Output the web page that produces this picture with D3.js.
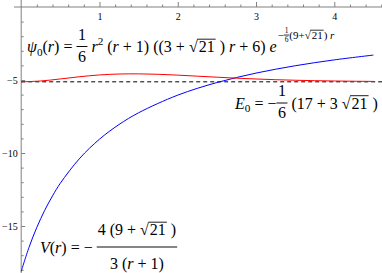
<!DOCTYPE html>
<html>
<head>
<meta charset="utf-8">
<script src="https://cdn.jsdelivr.net/npm/d3@7"></script>
<style>
  body { margin: 0; background: #fff; }
  text { font-family: 'Liberation Serif', 'Times New Roman', serif; fill: #000; white-space: pre; }
</style>
</head>
<body>
<div id="chart"></div>
<script>
// values
var rRed = [0, 0.25, 0.5, 0.75, 1, 1.25, 1.5, 1.75, 2, 2.25, 2.5, 2.75, 3, 3.25, 3.5, 3.75, 4, 4.25, 4.5];
var psiShifted = [-5.125, -5.067, -4.928, -4.774, -4.654, -4.590, -4.579, -4.610, -4.667, -4.737,
                  -4.808, -4.874, -4.931, -4.979, -5.017, -5.046, -5.068, -5.085, -5.097];
var rBlue = [0, 0.1, 0.2, 0.3, 0.4, 0.5, 0.75, 1, 1.25, 1.5, 2, 2.5, 3, 3.5, 4, 4.5];
var vBlue = [-18.11, -16.46, -15.09, -13.93, -12.94, -12.07, -10.35, -9.055, -8.049, -7.244,
             -6.037, -5.175, -4.528, -4.025, -3.622, -3.293];
var E0 = -5.125;
var xTicks = [1, 2, 3, 4];
var xMinor = [0.2, 0.4, 0.6, 0.8, 1.2, 1.4, 1.6, 1.8, 2.2, 2.4, 2.6, 2.8, 3.2, 3.4, 3.6, 3.8, 4.2, 4.4, 4.6];
var yTicks = [-5, -10, -15];
var yMinor = [-1, -2, -3, -4, -6, -7, -8, -9, -11, -12, -13, -14, -16, -17, -18];

var W = 382, H = 273;
var svg = d3.select("#chart").append("svg").attr("width", W).attr("height", H);

var x = d3.scaleLinear().domain([0, 4]).range([21.2, 334.3]);
var y = d3.scaleLinear().domain([0, -15]).range([7, 226]);
var axisCol = "#808080";

// x axis along the top, ticks pointing up, labels underneath
svg.append("line").attr("x1", 14).attr("x2", W).attr("y1", y(0)).attr("y2", y(0))
   .attr("stroke", axisCol);
var gx = svg.append("g").attr("transform", "translate(0," + y(0) + ")");
gx.call(d3.axisTop(x).tickValues(xTicks).tickSize(5).tickFormat(d3.format("d")));
gx.append("g").call(d3.axisTop(x).tickValues(xMinor).tickSize(2.5).tickFormat(""));
gx.selectAll(".domain").remove();
gx.selectAll("line").attr("stroke", axisCol);
gx.selectAll("text").attr("y", 12.5).attr("dy", 0)
  .style("font-family", "'Liberation Serif', serif").style("font-size", "10px").attr("fill", "#222");

// y axis, ticks pointing right, labels on the left
svg.append("line").attr("x1", x(0)).attr("x2", x(0)).attr("y1", 0).attr("y2", H)
   .attr("stroke", axisCol);
var gy = svg.append("g").attr("transform", "translate(" + x(0) + ",0)");
gy.call(d3.axisRight(y).tickValues(yTicks).tickSize(4));
gy.append("g").call(d3.axisRight(y).tickValues(yMinor).tickSize(2.5).tickFormat(""));
gy.selectAll(".domain").remove();
gy.selectAll("line").attr("stroke", axisCol);
gy.selectAll("text").attr("x", -3.5).attr("text-anchor", "end")
  .style("font-family", "'Liberation Serif', serif").style("font-size", "10px").attr("fill", "#222");

// E0 level
svg.append("line").attr("x1", x(0)).attr("x2", W).attr("y1", y(E0)).attr("y2", y(E0))
   .attr("stroke", "#000").attr("stroke-width", 1).attr("stroke-dasharray", "4,3");

var line = d3.line().curve(d3.curveCatmullRom)
  .x(function(d) { return x(d[0]); })
  .y(function(d) { return y(d[1]); });

svg.append("path").datum(d3.zip(rBlue, vBlue)).attr("d", line)
   .attr("fill", "none").attr("stroke", "#0000ff").attr("stroke-width", 1);
svg.append("path").datum(d3.zip(rRed, psiShifted)).attr("d", line)
   .attr("fill", "none").attr("stroke", "#ff0000").attr("stroke-width", 1);

// ---- little formula typesetter ----
function txt(g, px, py, s, fs, italic) {
  var t = g.append("text").attr("x", px).attr("y", py).attr("font-size", fs)
    .attr("font-style", italic ? "italic" : null).text(s);
  return t.node().getComputedTextLength();
}

function run(g, px, py, parts, fs) {
  var cx = px;
  parts.forEach(function(p) {
    var s = p[0], k = p[1];
    if (k === "sqrt") {
      cx += txt(g, cx, py, "\u221A", fs);
      var w1 = txt(g, cx + 1, py, s, fs);
      g.append("line").attr("x1", cx - 0.5).attr("x2", cx + w1 + 2)
        .attr("y1", py - fs * 0.8).attr("y2", py - fs * 0.8)
        .attr("stroke", "#000").attr("stroke-width", Math.max(0.8, fs * 0.055));
      cx += w1 + 2;
    } else if (k === "sub") {
      cx += txt(g, cx, py + fs * 0.22, s, fs * 0.7);
    } else if (k === "sup") {
      cx += txt(g, cx, py - fs * 0.42, s, fs * 0.7);
    } else {
      cx += txt(g, cx, py, s, fs, k === "i");
    }
  });
  return cx - px;
}

function frac(parent, px, barY, num, den, fs, nDy, dDy, pad) {
  var a = parent.append("g"), b = parent.append("g");
  var wa = run(a, 0, 0, num, fs), wb = run(b, 0, 0, den, fs);
  var w = Math.max(wa, wb) + 2 * pad;
  a.attr("transform", "translate(" + (px + (w - wa) / 2) + "," + (barY - nDy) + ")");
  b.attr("transform", "translate(" + (px + (w - wb) / 2) + "," + (barY + dDy) + ")");
  parent.append("line").attr("x1", px).attr("x2", px + w).attr("y1", barY).attr("y2", barY)
    .attr("stroke", "#000").attr("stroke-width", Math.max(0.8, fs * 0.06));
  return w;
}

// psi_0(r) label
var L1 = svg.append("g");
var cx = 27, base = 52, fs = 16;
cx += run(L1, cx, base, [["\u03C8", "i"], ["0", "sub"], ["(", ""], ["r", "i"], [")", ""], [" = ", ""]], fs);
cx += frac(L1, cx, base - 5.5, [["1", ""]], [["6", ""]], fs, 6.5, 15.5, 1.5);
cx += run(L1, cx, base, [[" ", ""], ["r", "i"], ["2", "sup"], [" (", ""], ["r", "i"], [" + 1) ((3 + ", ""],
  ["21", "sqrt"], [" ) ", ""], ["r", "i"], [" + 6) ", ""], ["e", "i"]], fs);
var eb = base - 13, efs = 11;
cx += 1;
cx += run(L1, cx, eb, [["\u2212", ""]], efs);
cx += frac(L1, cx, eb - 4, [["1", ""]], [["6", ""]], 7.5, 2, 6.5, 0.8);
cx += run(L1, cx, eb, [["(9+", ""], ["21", "sqrt"], [") ", ""], ["r", "i"]], efs);

// E0 label
var L2 = svg.append("g");
cx = 235; base = 108.5;
cx += run(L2, cx, base, [["E", "i"], ["0", "sub"], [" = \u2212", ""]], fs);
cx += frac(L2, cx, base - 5.5, [["1", ""]], [["6", ""]], fs, 7, 15, 1.5);
run(L2, cx, base, [[" (17 + 3 ", ""], ["21", "sqrt"], [" )", ""]], fs);

// V(r) label
var L3 = svg.append("g");
cx = 40; base = 252.5;
cx += run(L3, cx, base, [["V", "i"], ["(", ""], ["r", "i"], [")", ""], [" = \u2212 ", ""]], fs);
frac(L3, cx, base - 5.5, [["4 (9 + ", ""], ["21", "sqrt"], [" )", ""]],
     [["3 (", ""], ["r", "i"], [" + 1)", ""]], fs, 12, 22, 1);
</script>
</body>
</html>
